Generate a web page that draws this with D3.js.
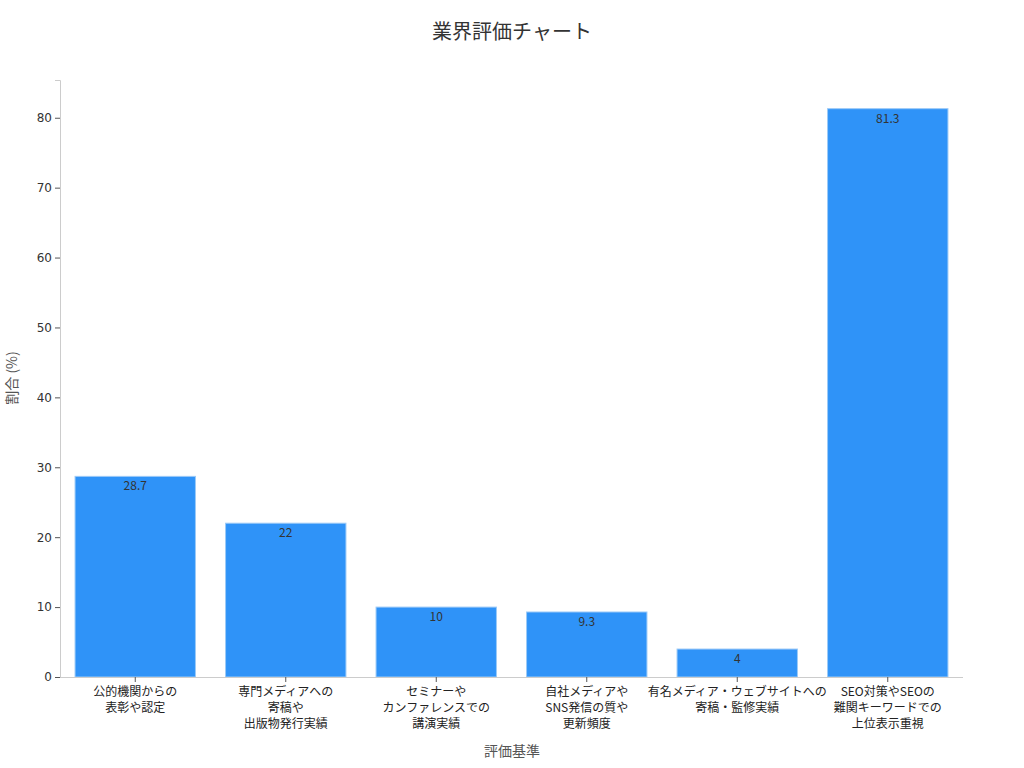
<!DOCTYPE html>
<html><head><meta charset="utf-8">
<script src="https://cdn.jsdelivr.net/npm/d3@7"></script>
<style>body{margin:0;background:#fff;font-family:"Noto Sans CJK JP","DejaVu Sans",sans-serif;}</style>
</head><body><svg id="c" width="1024" height="768"></svg>
<script>
const categories=[["公的機関からの","表彰や認定"],["専門メディアへの","寄稿や","出版物発行実績"],["セミナーや","カンファレンスでの","講演実績"],["自社メディアや","SNS発信の質や","更新頻度"],["有名メディア・ウェブサイトへの","寄稿・監修実績"],["SEO対策やSEOの","難関キーワードでの","上位表示重視"]];
const values=[28.7,22,10,9.3,4,81.3];
const yTicks=[0,10,20,30,40,50,60,70,80];
const svg=d3.select("#c");
const m={l:60,r:61,t:80,b:91};
const W=1024,H=768;
const x=d3.scaleBand().domain(d3.range(categories.length)).range([m.l,W-m.r]).paddingInner(0.2).paddingOuter(0.1);
const y=d3.scaleLinear().domain([0,85.4]).range([H-m.b,m.t]);
svg.append("text").attr("x",512).attr("y",39).attr("text-anchor","middle").attr("font-size",20).attr("fill","#333").text("業界評価チャート");
svg.selectAll("rect.b").data(values).join("rect").attr("x",(d,i)=>x(i)).attr("width",x.bandwidth()).attr("y",d=>y(d)).attr("height",d=>y(0)-y(d)).attr("fill","#2f93f8").attr("stroke","#9ccaf7").attr("stroke-width",1);
svg.selectAll("text.v").data(values).join("text").attr("x",(d,i)=>x(i)+x.bandwidth()/2).attr("y",d=>y(d)+14).attr("text-anchor","middle").attr("font-size",12).attr("fill","#333").text(d=>d);
const ya=svg.append("g").attr("transform",`translate(${m.l},0)`).call(d3.axisLeft(y).tickValues(yTicks).tickSize(5));
ya.select(".domain").attr("stroke","#ccc");ya.selectAll(".tick line").attr("stroke","#555");ya.selectAll("text").attr("font-size",12).attr("fill","#333").attr("font-family","DejaVu Sans");
const xa=svg.append("g").attr("transform",`translate(0,${H-m.b})`).call(d3.axisBottom(x).tickSize(5).tickFormat(""));
xa.select(".domain").attr("stroke","#ccc").attr("d",`M${m.l},0.5H${W-m.r}`);xa.selectAll(".tick line").attr("stroke","#555");
categories.forEach((c,i)=>{const t=svg.append("text").attr("x",x(i)+x.bandwidth()/2).attr("y",H-m.b+19).attr("text-anchor","middle").attr("font-size",12).attr("fill","#222");
c.forEach((l,j)=>t.append("tspan").attr("x",x(i)+x.bandwidth()/2).attr("dy",j?16:0).text(l));});
svg.append("text").attr("x",512).attr("y",756).attr("text-anchor","middle").attr("font-size",14).attr("fill","#555").text("評価基準");
svg.append("text").attr("transform","translate(17,378) rotate(-90)").attr("text-anchor","middle").attr("font-size",14).attr("fill","#555").text("割合 (%)");
</script></body></html>
